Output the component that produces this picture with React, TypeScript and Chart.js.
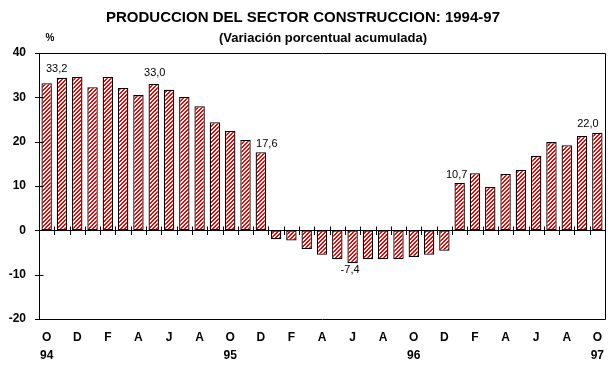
import React, { useEffect, useRef } from 'react';
import { Chart, registerables } from 'chart.js';

Chart.register(...registerables);

// Months Oct 1994 .. Oct 1997 (Spanish initials)
const monthLetters = [
  'O', 'N', 'D', 'E', 'F', 'M', 'A', 'M', 'J', 'J', 'A', 'S',
  'O', 'N', 'D', 'E', 'F', 'M', 'A', 'M', 'J', 'J', 'A', 'S',
  'O', 'N', 'D', 'E', 'F', 'M', 'A', 'M', 'J', 'J', 'A', 'S',
  'O',
];
const yearTickIndex = [0, 12, 24, 36];
const yearTickText = ['94', '95', '96', '97'];

const values = [
  33.2, 34.4, 34.6, 32.3, 34.6, 32.1, 30.5, 33.0, 31.7, 30.1, 28.0, 24.4,
  22.4, 20.4, 17.6, -2.0, -2.3, -4.2, -5.5, -6.5, -7.4, -6.5, -6.5, -6.5,
  -6.0, -5.5, -4.6, 10.7, 12.9, 9.8, 12.7, 13.6, 16.8, 19.9, 19.2, 21.3,
  22.0,
];

const labeledIndices = [0, 7, 14, 20, 27, 36];

const yMin = -20;
const yMax = 40;
const yStep = 10;

const titleText = 'PRODUCCION DEL SECTOR CONSTRUCCION: 1994-97';
const subtitleText = '(Variación porcentual acumulada)';
const unitText = '%';

const FONT = '"Liberation Sans", Arial, Helvetica, sans-serif';

function makeHatch(): CanvasPattern | string {
  const c = document.createElement('canvas');
  c.width = 4;
  c.height = 4;
  const g = c.getContext('2d');
  if (!g) return '#ff0000';
  g.fillStyle = '#ffffff';
  g.fillRect(0, 0, 4, 4);
  g.fillStyle = '#ff0000';
  for (let x = 0; x < 4; x++) {
    for (let y = 0; y < 4; y++) {
      if ((x + y) % 4 < 2) g.fillRect(x, y, 1, 1);
    }
  }
  const p = g.createPattern(c, 'repeat');
  return p || '#ff0000';
}

// label offsets (px) relative to bar end, in order of labeledIndices
const labelOffsets = [
  { dx: 10, dy: -14 },
  { dx: 1, dy: -11 },
  { dx: 6, dy: -8 },
  { dx: -2.5, dy: 6.5 },
  { dx: -3, dy: -8 },
  { dx: -9.5, dy: -8.5 },
];

const framePlugin = {
  id: 'framePlugin',
  afterDatasetsDraw(chart: any) {
    const { ctx, chartArea } = chart;
    const xs = chart.scales.x;
    const ys = chart.scales.y;
    const L = Math.round(chartArea.left) + 0.5;
    const R = Math.round(chartArea.right) + 0.5;
    const T = Math.round(chartArea.top) + 0.5;
    const B = Math.round(chartArea.bottom) + 0.5;
    ctx.save();
    ctx.strokeStyle = '#000000';
    ctx.lineWidth = 1;
    ctx.beginPath();
    // frame
    ctx.moveTo(L, T);
    ctx.lineTo(R, T);
    ctx.lineTo(R, B);
    ctx.lineTo(L, B);
    ctx.closePath();
    // y ticks crossing the axis
    for (let v = yMin; v <= yMax; v += yStep) {
      const py = Math.round(ys.getPixelForValue(v)) + 0.5;
      ctx.moveTo(L - 4.5, py);
      ctx.lineTo(L + 4, py);
    }
    // zero line
    const z = Math.round(ys.getPixelForValue(0)) + 0.5;
    ctx.moveTo(L, z);
    ctx.lineTo(R, z);
    // x ticks at category boundaries crossing zero line
    for (let k = 1; k < values.length; k++) {
      const bx = Math.round((xs.getPixelForValue(k - 1) + xs.getPixelForValue(k)) / 2) + 0.5;
      ctx.moveTo(bx, z - 4);
      ctx.lineTo(bx, z + 4.5);
    }
    ctx.stroke();

    // value labels
    const meta = chart.getDatasetMeta(0);
    ctx.fillStyle = '#000000';
    ctx.font = `11px ${FONT}`;
    ctx.textAlign = 'center';
    ctx.textBaseline = 'middle';
    labeledIndices.forEach((idx, j) => {
      const el = meta.data[idx];
      if (!el) return;
      const off = labelOffsets[j];
      const txt = values[idx].toFixed(1).replace('.', ',');
      ctx.fillText(txt, el.x + off.dx, el.y + off.dy);
    });

    // titles
    ctx.font = `bold 15px ${FONT}`;
    ctx.fillText(titleText, 303, 18);
    ctx.font = `bold 13px ${FONT}`;
    ctx.fillText(subtitleText, 323, 38);
    ctx.font = `bold 10px ${FONT}`;
    ctx.fillText(unitText, 50, 38);
    ctx.restore();
  },
};

export default function App() {
  const ref = useRef<HTMLCanvasElement | null>(null);

  useEffect(() => {
    const canvas = ref.current;
    if (!canvas) return;
    const hatch = makeHatch();
    const chart = new Chart(canvas, {
      type: 'bar',
      data: {
        labels: monthLetters,
        datasets: [
          {
            data: values,
            backgroundColor: hatch as any,
            borderColor: '#000000',
            borderWidth: 1.3,
            borderSkipped: false,
            barPercentage: 0.68,
            categoryPercentage: 1,
          },
        ],
      },
      options: {
        responsive: false,
        animation: false,
        layout: { padding: { top: 53, right: 11, left: 0, bottom: 0 } },
        plugins: {
          legend: { display: false },
          title: { display: false },
          tooltip: { enabled: false },
        },
        scales: {
          x: {
            type: 'category',
            offset: true,
            grid: { display: false, drawTicks: false },
            border: { display: false },
            ticks: {
              autoSkip: false,
              maxRotation: 0,
              minRotation: 0,
              padding: 10,
              color: '#000000',
              font: { family: FONT, size: 12, weight: 'bold', lineHeight: '17.5px' },
              callback: (_v: any, i: number) => {
                if (i % 2 !== 0) return '';
                const yi = yearTickIndex.indexOf(i);
                return yi >= 0 ? [monthLetters[i], yearTickText[yi]] : monthLetters[i];
              },
            },
            afterFit: (s: any) => {
              s.height = 65;
            },
          },
          y: {
            min: yMin,
            max: yMax,
            grid: { display: false, drawTicks: false },
            border: { display: false },
            ticks: {
              stepSize: yStep,
              padding: 13,
              color: '#000000',
              font: { family: FONT, size: 12, weight: 'bold' },
            },
            afterFit: (s: any) => {
              s.width = 39;
            },
          },
        },
      },
      plugins: [framePlugin],
    });
    return () => chart.destroy();
  }, []);

  return (
    <div style={{ position: 'absolute', left: 0, top: 0, width: 616, height: 384, background: '#ffffff' }}>
      <canvas ref={ref} width={616} height={384} style={{ display: 'block' }} />
    </div>
  );
}
